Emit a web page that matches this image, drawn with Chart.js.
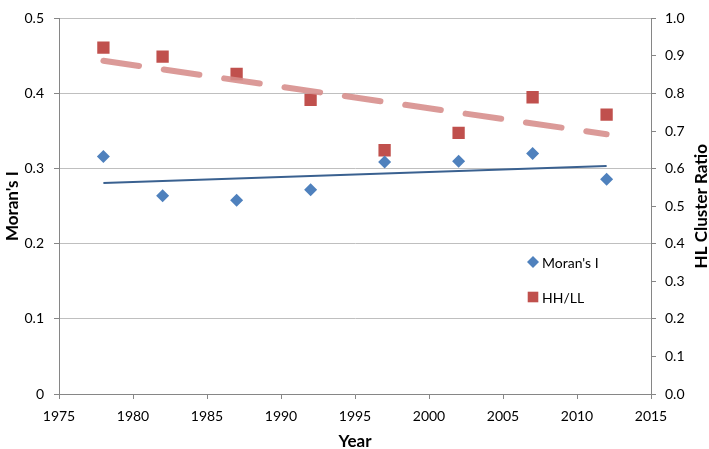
<!DOCTYPE html>
<html>
<head>
<meta charset="utf-8">
<script src="https://cdn.jsdelivr.net/npm/chart.js@4.4.1/dist/chart.umd.min.js"></script>
<style>
html,body{margin:0;padding:0;background:#fff;}
#wrap{width:709px;height:449px;position:relative;}
</style>
</head>
<body>
<div id="wrap"><canvas id="c" width="709" height="449"></canvas></div>
<script>
// ---- data ----
const years = [1978, 1982, 1987, 1992, 1997, 2002, 2007, 2012];
const moransI = [0.316, 0.264, 0.258, 0.272, 0.309, 0.310, 0.320, 0.286];
const hhll = [0.922, 0.898, 0.852, 0.783, 0.649, 0.695, 0.790, 0.744];
const xTicks = [1975, 1980, 1985, 1990, 1995, 2000, 2005, 2010, 2015];
const leftTicks = [0, 0.1, 0.2, 0.3, 0.4, 0.5];
const rightTicks = [0, 0.1, 0.2, 0.3, 0.4, 0.5, 0.6, 0.7, 0.8, 0.9, 1.0];
const seriesNames = ["Moran's I", "HH/LL"];

// linear least-squares trendline (as in the original's Excel trendlines)
function trend(xs, ys) {
  const n = xs.length;
  const mx = xs.reduce((a, b) => a + b, 0) / n;
  const my = ys.reduce((a, b) => a + b, 0) / n;
  let sxy = 0, sxx = 0;
  for (let i = 0; i < n; i++) { sxy += (xs[i] - mx) * (ys[i] - my); sxx += (xs[i] - mx) ** 2; }
  const b = sxy / sxx, a = my - b * mx;
  return [{x: xs[0], y: a + b * xs[0]}, {x: xs[n - 1], y: a + b * xs[n - 1]}];
}

const FONT = 'Lato, "Open Sans", sans-serif';
const BLUE = '#4f81bd', RED = '#c0504d';

const legendPlugin = {
  id: 'inLegend',
  afterDraw(chart) {
    const ctx = chart.ctx, ca = chart.chartArea;
    const items = [
      {text: seriesNames[0], style: 'rectRot', color: BLUE, r: 6, dy: 262},
      {text: seriesNames[1], style: 'rect', color: RED, r: 7.5, dy: 297}
    ];
    ctx.save();
    ctx.font = '14px ' + FONT;
    ctx.textBaseline = 'middle';
    ctx.fillStyle = '#000';
    items.forEach(it => {
      const x = ca.left + 474, y = it.dy;
      ctx.fillStyle = it.color; ctx.strokeStyle = it.color;
      Chart.helpers.drawPoint(ctx, {pointStyle: it.style, radius: it.r, borderWidth: 0}, x, y);
      ctx.fillStyle = '#000';
      ctx.fillText(it.text, x + 9, y + 1);
    });
    // right axis title, reading bottom-to-top
    ctx.font = 'bold 17px ' + FONT;
    ctx.textAlign = 'center';
    ctx.textBaseline = 'middle';
    ctx.translate(702, (ca.top + ca.bottom) / 2);
    ctx.rotate(-Math.PI / 2);
    ctx.fillText('HL Cluster Ratio', 0, 0);
    ctx.restore();
  }
};

new Chart(document.getElementById('c'), {
  type: 'scatter',
  data: {
    datasets: [
      {label: 'Moran trend', type: 'line', data: trend(years, moransI), yAxisID: 'y',
       borderColor: '#3a6190', borderWidth: 2, pointRadius: 0, fill: false, order: 0},
      {label: 'HH/LL trend', type: 'line', data: trend(years, hhll), yAxisID: 'y1',
       borderColor: 'rgba(214,140,138,0.88)', borderWidth: 6, borderDash: [36, 25],
       borderCapStyle: 'round', pointRadius: 0, fill: false, order: 0},
      {label: seriesNames[0], data: years.map((x, i) => ({x, y: moransI[i]})), yAxisID: 'y',
       pointStyle: 'rectRot', pointRadius: 6.5, backgroundColor: BLUE, borderColor: BLUE, borderWidth: 0, order: 1},
      {label: seriesNames[1], data: years.map((x, i) => ({x, y: hhll[i]})), yAxisID: 'y1',
       pointStyle: 'rect', pointRadius: 8.7, backgroundColor: RED, borderColor: RED, borderWidth: 0, order: 1}
    ]
  },
  options: {
    responsive: false,
    animation: false,
    events: [],
    layout: {padding: {top: 6, left: 0, right: 0, bottom: 0}},
    plugins: {legend: {display: false}, tooltip: {enabled: false}},
    scales: {
      x: {
        type: 'linear', min: xTicks[0], max: xTicks[xTicks.length - 1],
        afterBuildTicks: s => { s.ticks = xTicks.map(v => ({value: v})); },
        afterFit: s => { s.height = 55; },
        ticks: {color: '#000', font: {family: FONT, size: 14}, padding: 9, maxRotation: 0,
                callback: v => String(v)},
        grid: {drawOnChartArea: false, drawTicks: true, tickLength: 5, color: '#868686'},
        border: {display: true, color: '#868686', width: 1},
        title: {display: true, text: 'Year', color: '#000', font: {family: FONT, size: 17, weight: 'bold'}, padding: {top: 0, bottom: -3}}
      },
      y: {
        position: 'left', min: 0, max: 0.5,
        afterBuildTicks: s => { s.ticks = leftTicks.map(v => ({value: v})); },
        afterFit: s => { s.width = 59; },
        ticks: {color: '#000', font: {family: FONT, size: 14}, padding: 10,
                callback: v => v === 0 ? '0' : v.toFixed(1)},
        grid: {color: '#bfbfbf', tickColor: '#868686', tickLength: 5, drawTicks: true},
        border: {display: true, color: '#868686', width: 1},
        title: {display: true, text: "Moran's I", color: '#000', font: {family: FONT, size: 17, weight: 'bold'}, padding: {top: 2, bottom: 0}}
      },
      y1: {
        position: 'right', min: 0, max: 1,
        afterBuildTicks: s => { s.ticks = rightTicks.map(v => ({value: v})); },
        afterFit: s => { s.width = 58; },
        ticks: {color: '#000', font: {family: FONT, size: 14}, padding: 9,
                callback: v => v.toFixed(1)},
        grid: {drawOnChartArea: false, drawTicks: true, tickLength: 5, color: '#868686'},
        border: {display: true, color: '#868686', width: 1}
      }
    }
  },
  plugins: [legendPlugin]
});
</script>
</body>
</html>
